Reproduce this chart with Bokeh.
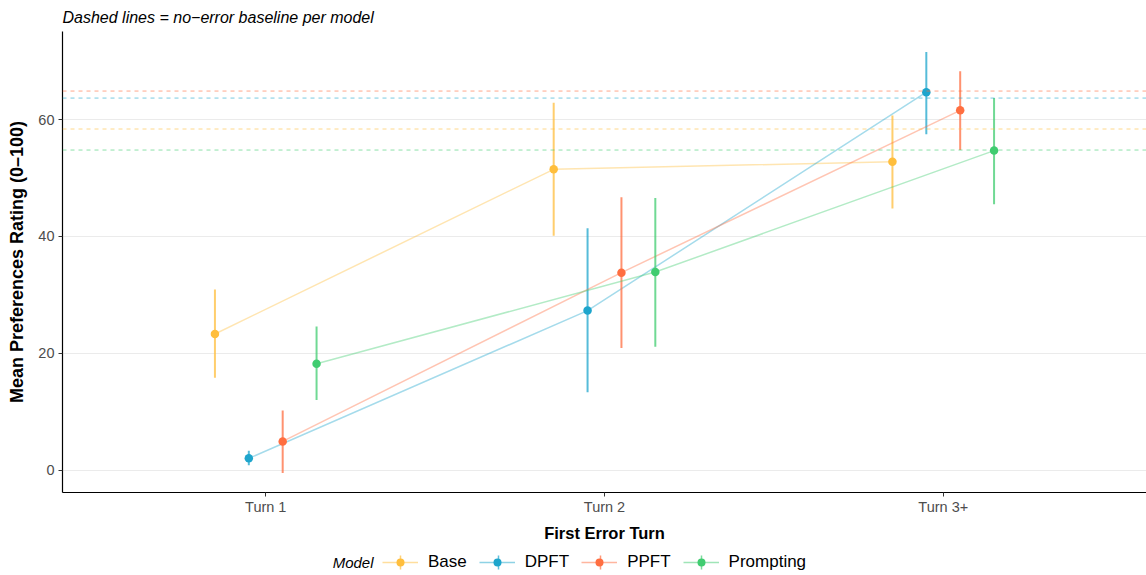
import numpy as np
from bokeh.plotting import figure
from bokeh.layouts import column
from bokeh.models import (ColumnDataSource, FixedTicker, Legend, LegendItem,
                          Label, Range1d, Span)
from bokeh.embed import file_html
from bokeh.resources import INLINE

# ---------------- data ----------------
turns = ["Turn 1", "Turn 2", "Turn 3+"]
models = ["Base", "DPFT", "PPFT", "Prompting"]

base_mean = [23.3, 51.5, 52.8]
base_lo = [15.8, 40.1, 44.8]
base_hi = [30.9, 62.9, 60.7]

dpft_mean = [2.0, 27.3, 64.7]
dpft_lo = [0.8, 13.3, 57.5]
dpft_hi = [3.3, 41.4, 71.6]

ppft_mean = [4.9, 33.8, 61.6]
ppft_lo = [-0.5, 20.9, 54.8]
ppft_hi = [10.2, 46.7, 68.3]

prompt_mean = [18.2, 33.9, 54.7]
prompt_lo = [12.0, 21.1, 45.5]
prompt_hi = [24.6, 46.6, 63.7]

baseline = [58.4, 63.7, 64.9, 54.8]  # no-error baseline: Base, DPFT, PPFT, Prompting

y_ticks = [0, 20, 40, 60]

# ---------------- styling ----------------
colors = ["#FFBE3C", "#1EA5CC", "#FF6E40", "#40CC70"]
dodge = [-0.15, -0.05, 0.05, 0.15]
FONT = "Liberation Sans"

series = [
    (base_mean, base_lo, base_hi),
    (dpft_mean, dpft_lo, dpft_hi),
    (ppft_mean, ppft_lo, ppft_hi),
    (prompt_mean, prompt_lo, prompt_hi),
]

p = figure(frame_width=1084, frame_height=461, output_backend="svg",
           toolbar_location=None,
           x_range=Range1d(0.4, 3.6), y_range=Range1d(-3.85, 75.1),
           title="Dashed lines = no\u2212error baseline per model",
           min_border_left=62, min_border_right=0, min_border_top=0,
           min_border_bottom=52)

p.title.text_font = FONT
p.title.text_font_size = "16px"
p.title.text_font_style = "italic"
p.title.text_color = "#000000"
p.title.standoff = 12

p.outline_line_color = None
p.background_fill_color = "white"
p.border_fill_color = "white"

p.xgrid.grid_line_color = None
p.ygrid.grid_line_color = "#EBEBEB"
p.ygrid.grid_line_width = 1
p.ygrid.ticker = FixedTicker(ticks=y_ticks)

p.yaxis.ticker = FixedTicker(ticks=y_ticks)
p.xaxis.ticker = FixedTicker(ticks=[1, 2, 3])
p.xaxis.major_label_overrides = {1: turns[0], 2: turns[1], 3: turns[2]}

for ax in (p.xaxis, p.yaxis):
    ax.axis_line_color = "black"
    ax.axis_line_width = 1.2
    ax.major_tick_line_color = "#333333"
    ax.major_tick_out = 4
    ax.major_tick_in = 0
    ax.minor_tick_out = 0
    ax.minor_tick_in = 0
    ax.major_label_text_font = FONT
    ax.major_label_text_font_size = "14.5px"
    ax.major_label_text_color = "#4D4D4D"
    ax.axis_label_text_font = FONT
    ax.axis_label_text_font_style = "bold"
    ax.axis_label_text_color = "black"

p.xaxis.axis_label = "First Error Turn"
p.yaxis.axis_label = "Mean Preferences Rating (0\u2013100)"
p.xaxis.axis_label_text_font_size = "16.5px"
p.yaxis.axis_label_text_font_size = "18px"
p.xaxis.major_label_standoff = 2
p.xaxis.axis_label_standoff = 6
p.yaxis.major_label_standoff = 4
p.yaxis.axis_label_standoff = 8

# baselines
for b, c in zip(baseline, colors):
    p.add_layout(Span(location=b, dimension="width", line_color=c,
                      line_alpha=0.6, line_width=1, line_dash="4 4"))

xs_base = np.array([1, 2, 3], dtype=float)
for name, (m, lo, hi), c, d in zip(models, series, colors, dodge):
    src = ColumnDataSource(dict(x=xs_base + d, y=m, lo=lo, hi=hi))
    p.line("x", "y", source=src, line_color=c, line_alpha=0.4, line_width=1.5)
    p.segment(x0="x", y0="lo", x1="x", y1="hi", source=src,
              line_color=c, line_alpha=0.75, line_width=2)
    p.scatter("x", "y", source=src, size=8.5, fill_color=c, line_color=c,
              line_width=0)

# ---------------- legend strip ----------------
# (frame of this strip is aligned with the main frame: page x 62..1146)
LH = 31
lf = figure(width=1146, height=LH, output_backend="svg", toolbar_location=None,
            x_range=Range1d(62, 1146), y_range=Range1d(0, LH),
            x_axis_type=None, y_axis_type=None,
            min_border_left=0, min_border_right=0, min_border_top=0,
            min_border_bottom=0)
lf.outline_line_color = None
lf.xgrid.grid_line_color = None
lf.ygrid.grid_line_color = None
lf.background_fill_color = "white"
lf.border_fill_color = "white"

items = []
for name, c in zip(models, colors):
    ln = lf.line([-50, -40], [-50, -50], line_color=c, line_alpha=0.5, line_width=1.5)
    sc = lf.scatter([-50], [-50], size=8.5, fill_color=c, line_color=c, line_width=0)
    items.append(LegendItem(label=name, renderers=[ln, sc]))

legend = Legend(items=items, orientation="horizontal", location=(320, 3),
                label_text_font=FONT, label_text_font_size="17px",
                label_text_color="black", glyph_width=36, glyph_height=20,
                label_standoff=10, spacing=12, padding=0, margin=0,
                border_line_color=None, background_fill_alpha=0)
lf.add_layout(legend, "center")

# small vertical error-bar marks inside legend keys
key_x = [400, 498, 600, 701]
lf.segment(x0=key_x, y0=[6] * 4, x1=key_x, y1=[20] * 4,
           line_color=colors, line_alpha=0.7, line_width=1.5)

lf.add_layout(Label(x=373, y=13, text="Model", text_font=FONT,
                    text_font_size="15px", text_font_style="italic",
                    text_align="right", text_baseline="middle",
                    text_color="black"))

layout = column(p, lf, spacing=0)
open("out.html", "w").write(file_html(layout, INLINE))
